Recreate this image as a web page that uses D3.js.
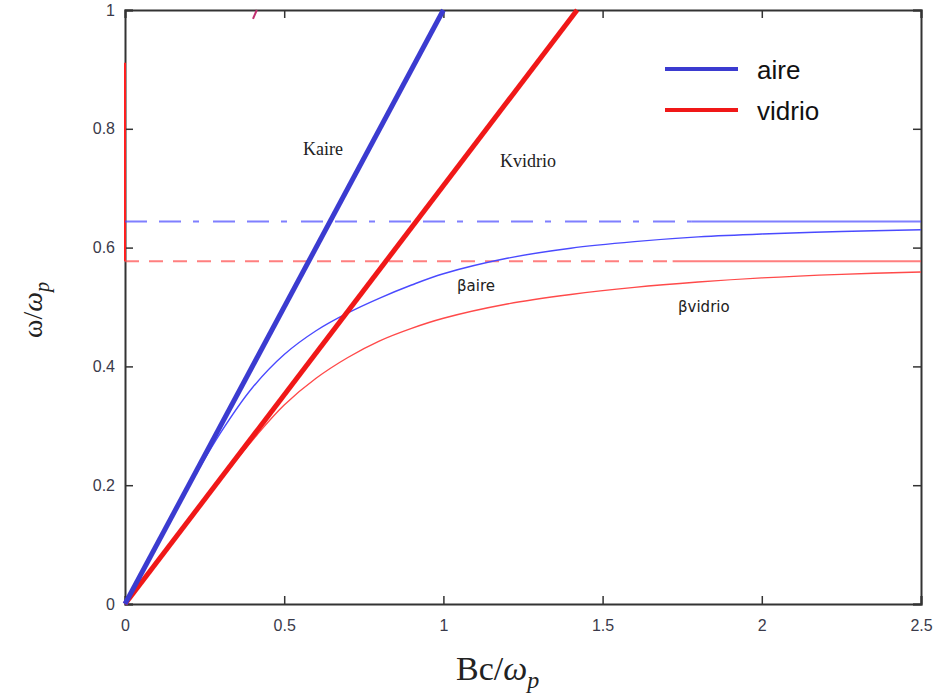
<!DOCTYPE html>
<html>
<head>
<meta charset="utf-8">
<script src="https://cdn.jsdelivr.net/npm/d3@7"></script>
<style>
  body { margin: 0; background: #fff; }
  svg { display: block; }
</style>
</head>
<body>
<div id="chart"></div>
<script>
// light lines (thick)
let k_aire = [[0, 0], [1.0, 1.0]];
let k_vidrio = [[0, 0], [1.42, 1.0]];

// surface plasmon branches (thin)
let b_aire = [[0, 0], [0.1, 0.1], [0.2, 0.197], [0.3, 0.288], [0.4, 0.364], [0.5, 0.42],
    [0.6, 0.46], [0.7, 0.49], [0.8, 0.515], [0.9, 0.537], [1.0, 0.556], [1.2, 0.582],
    [1.4, 0.599], [1.6, 0.61], [1.8, 0.618], [2.0, 0.623], [2.25, 0.627], [2.5, 0.630]];
let b_vidrio = [[0, 0], [0.2, 0.141], [0.415, 0.285], [0.5, 0.335], [0.6, 0.38], [0.7, 0.415],
    [0.8, 0.443], [0.9, 0.464], [1.0, 0.481], [1.2, 0.505], [1.4, 0.521], [1.6, 0.533],
    [1.8, 0.542], [2.0, 0.549], [2.25, 0.555], [2.5, 0.559]];

// asymptotes
let asym_aire = 0.644;
let asym_vidrio = 0.577;

// upper branch pieces
let upper_vidrio = [[0, 0.577], [0, 0.911]];
let upper_top = [[0.402, 0.985], [0.414, 1.0]];

let x_ticks = [0, 0.5, 1, 1.5, 2, 2.5];
let y_ticks = [0, 0.2, 0.4, 0.6, 0.8, 1];

let legend_names = ["aire", "vidrio"];
let legend_colors = ["#3b3bd0", "#f01818"];

let width = 939, height = 698;
let margin = {top: 10, right: 18, bottom: 94, left: 125};

let svg = d3.select("#chart").append("svg")
    .attr("width", width)
    .attr("height", height);

let x = d3.scaleLinear().domain([0, 2.5]).range([margin.left, width - margin.right]);
let y = d3.scaleLinear().domain([0, 1]).range([height - margin.bottom, margin.top]);

let line = d3.line().x(d => x(d[0])).y(d => y(d[1]));
let smooth = d3.line().x(d => x(d[0])).y(d => y(d[1])).curve(d3.curveCatmullRom.alpha(0.5));

// axes with inward ticks on all four sides
let fmt = d => d3.format("~g")(d);
let axis_color = "#333";
let x_axis = g => g
    .attr("transform", `translate(0, ${y(0)})`)
    .call(d3.axisBottom(x).tickValues(x_ticks).tickSize(-8).tickPadding(16).tickFormat(fmt));
let y_axis = g => g
    .attr("transform", `translate(${x(0)}, 0)`)
    .call(d3.axisLeft(y).tickValues(y_ticks).tickSize(-8).tickPadding(10).tickFormat(fmt));
let top_axis = g => g
    .attr("transform", `translate(0, ${y(1)})`)
    .call(d3.axisTop(x).tickValues(x_ticks).tickSize(-8).tickFormat(""));
let right_axis = g => g
    .attr("transform", `translate(${x(2.5)}, 0)`)
    .call(d3.axisRight(y).tickValues(y_ticks).tickSize(-8).tickFormat(""));

[x_axis, y_axis, top_axis, right_axis].forEach(a => {
    let g = svg.append("g").call(a);
    g.select(".domain").attr("stroke", axis_color).attr("stroke-width", 2);
    g.selectAll(".tick line").attr("stroke", axis_color).attr("stroke-width", 1.5);
    g.selectAll(".tick text")
        .attr("fill", "#3a3a4a")
        .style("font-family", "Arial, 'Liberation Sans', sans-serif")
        .style("font-size", "16px");
});

// red upper branch sitting on the left edge
svg.append("path").datum(upper_vidrio)
    .attr("fill", "none").attr("stroke", "#ff2020").attr("stroke-width", 2)
    .attr("d", line);
svg.append("path").datum(upper_top)
    .attr("fill", "none").attr("stroke", "#c03070").attr("stroke-width", 2)
    .attr("d", line);

// asymptotes: dashed then solid toward the right
let asym = [
    {v: asym_aire, color: "#4848ff", dash: "22,12,22,12,6,14", solid_from: 1.78},
    {v: asym_vidrio, color: "#ff4848", dash: "14,10", solid_from: 1.72},
];
asym.forEach(a => {
    svg.append("path").datum([[0, a.v], [a.solid_from, a.v]])
        .attr("fill", "none").attr("stroke", a.color).attr("stroke-opacity", 0.7)
        .attr("stroke-width", 2).attr("stroke-dasharray", a.dash)
        .attr("d", line);
    svg.append("path").datum([[a.solid_from, a.v], [2.5, a.v]])
        .attr("fill", "none").attr("stroke", a.color).attr("stroke-opacity", 0.7)
        .attr("stroke-width", 2)
        .attr("d", line);
});

// thin surface plasmon curves
svg.append("path").datum(b_vidrio)
    .attr("fill", "none").attr("stroke", "#ff4a4a").attr("stroke-width", 1.4)
    .attr("d", smooth);
svg.append("path").datum(b_aire)
    .attr("fill", "none").attr("stroke", "#4a4aff").attr("stroke-width", 1.4)
    .attr("d", smooth);

// thick light lines
svg.append("path").datum(k_vidrio)
    .attr("fill", "none").attr("stroke", legend_colors[1]).attr("stroke-width", 5)
    .attr("d", line);
svg.append("path").datum(k_aire)
    .attr("fill", "none").attr("stroke", legend_colors[0]).attr("stroke-width", 5)
    .attr("d", line);

// curve labels
let labels = [
    {t: "Kaire", x: 303, y: 155, font: "'Liberation Serif', serif", size: 18},
    {t: "Kvidrio", x: 500, y: 167, font: "'Liberation Serif', serif", size: 18},
    {t: "βaire", x: 457, y: 291, font: "'DejaVu Sans', sans-serif", size: 15},
    {t: "βvidrio", x: 678, y: 312, font: "'DejaVu Sans', sans-serif", size: 15},
];
svg.append("g").selectAll("text").data(labels).join("text")
    .attr("x", d => d.x).attr("y", d => d.y)
    .attr("fill", "#222")
    .style("font-family", d => d.font)
    .style("font-size", d => d.size + "px")
    .text(d => d.t);

// legend
let legend = svg.append("g").attr("transform", "translate(665, 69)");
legend_names.forEach((name, i) => {
    let row = legend.append("g").attr("transform", `translate(0, ${i * 41})`);
    row.append("line").attr("x1", 0).attr("x2", 73)
        .attr("stroke", legend_colors[i]).attr("stroke-width", 4);
    row.append("text").attr("x", 92).attr("y", 10)
        .attr("fill", "#111")
        .style("font-family", "Arial, 'Liberation Sans', sans-serif")
        .style("font-size", "26px")
        .text(name);
});

// axis titles
let xt = svg.append("text")
    .attr("x", 456).attr("y", 680)
    .style("font-family", "'Liberation Serif', serif")
    .style("font-size", "34px")
    .attr("fill", "#222");
xt.append("tspan").text("Bc/");
xt.append("tspan").style("font-style", "italic").text("ω");
xt.append("tspan").style("font-style", "italic").style("font-size", "24px")
    .attr("dy", 8).text("p");

let yt = svg.append("text")
    .attr("transform", "translate(42, 338) rotate(-90)")
    .style("font-family", "'Liberation Serif', serif")
    .style("font-size", "28px")
    .attr("fill", "#222");
yt.append("tspan").text("ω/");
yt.append("tspan").style("font-style", "italic").text("ω");
yt.append("tspan").style("font-style", "italic").style("font-size", "20px")
    .attr("dy", 7).text("p");
</script>
</body>
</html>
